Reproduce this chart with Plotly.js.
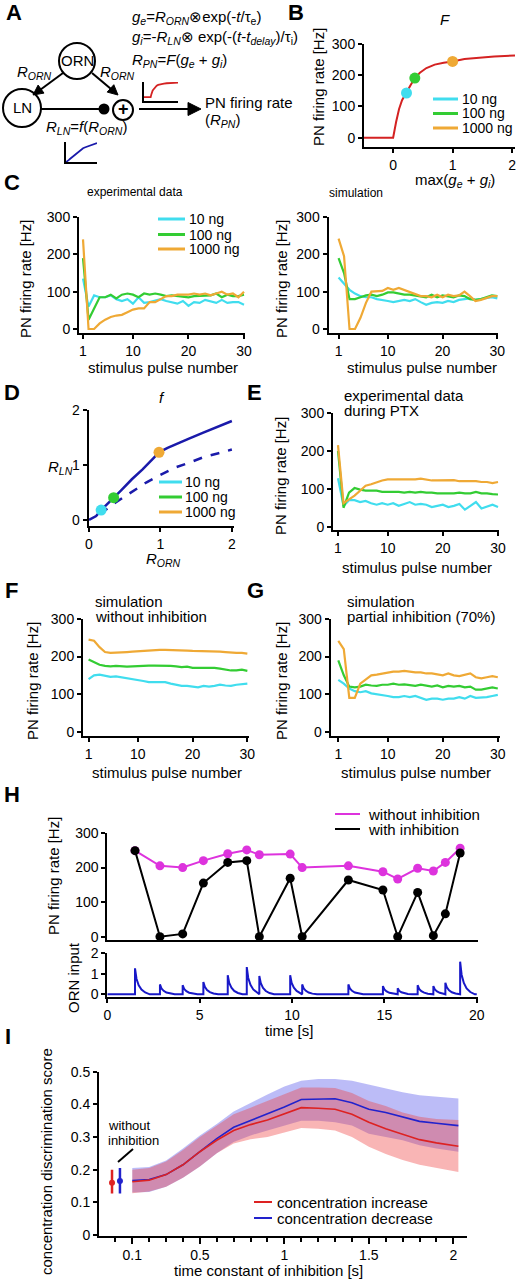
<!DOCTYPE html>
<html><head><meta charset="utf-8">
<script src="https://cdn.plot.ly/plotly-3.0.1.min.js"></script>
<style>html,body{margin:0;padding:0;background:#fff;}#plot{width:518px;height:1280px;}</style>
</head><body><div id="plot"></div>
<script>
// ---------------- DATA ----------------
const concLabels = ['10 ng', '100 ng', '1000 ng'];
const pulseNum = [1,2,3,4,5,6,7,8,9,10,11,12,13,14,15,16,17,18,19,20,21,22,23,24,25,26,27,28,29,30];

// B: transfer function F
const Fx = [-0.5, 0, 0.05, 0.1, 0.15, 0.225, 0.3, 0.365, 0.45, 0.56, 0.7, 0.85, 1.0, 1.2, 1.4, 1.7, 2.05];
const Fy = [0, 0, 50, 92, 120, 143, 170, 191, 208, 223, 234, 240, 244, 252, 256, 260, 263];
const FdotX = [0.225, 0.365, 1.0];
const FdotY = [143, 191, 244];

// C: experimental data
const cExp10   = [135,60,90,85,85,90,80,75,80,68,85,70,72,75,80,75,72,68,75,62,72,70,78,75,70,78,70,72,72,65];
const cExp100  = [190,25,55,85,85,92,82,92,95,92,85,95,92,95,92,88,90,88,88,85,88,88,90,90,95,85,92,88,88,92];
const cExp1000 = [240,0,0,15,25,32,36,38,45,52,55,55,72,72,80,88,88,92,92,92,95,92,95,90,95,100,92,95,85,100];
// C: simulation
const cSim10   = [138,120,105,95,88,85,85,80,78,75,72,75,78,75,80,72,65,70,72,70,75,72,78,80,82,78,80,82,85,82];
const cSim100  = [190,150,80,80,85,90,92,88,92,98,98,95,92,92,90,88,85,92,85,90,88,85,90,88,80,78,80,85,90,88];
const cSim1000 = [242,195,0,0,30,70,100,100,102,110,105,110,105,100,95,88,88,85,92,85,92,88,90,100,88,75,78,82,88,88];

// D: LN transfer function f
const fx = [0, 0.1, 0.17, 0.25, 0.345, 0.45, 0.6, 0.75, 0.9, 0.98, 1.1, 1.25, 1.4, 1.6, 1.8, 2.0];
const fy = [0, 0.07, 0.18, 0.28, 0.405, 0.54, 0.74, 0.92, 1.12, 1.23, 1.31, 1.40, 1.48, 1.59, 1.70, 1.80];
const fDashX = [0.15, 0.25, 0.35, 0.5, 0.65, 0.8, 1.0, 1.2, 1.4, 1.6, 1.8, 2.0];
const fDashY = [0.12, 0.2, 0.3, 0.43, 0.56, 0.68, 0.82, 0.95, 1.04, 1.14, 1.21, 1.28];
const fdotX = [0.17, 0.345, 0.98];
const fdotY = [0.18, 0.405, 1.23];

// E: experimental data during PTX
const ePtx10   = [128,55,70,70,65,68,62,58,62,58,62,55,60,65,58,60,58,52,55,58,52,55,60,45,55,65,48,52,58,52];
const ePtx100  = [200,50,90,102,98,95,95,95,92,92,93,92,90,92,90,92,90,90,88,88,88,88,90,88,88,92,88,88,86,85];
const ePtx1000 = [215,62,72,82,95,108,112,118,122,125,125,125,125,125,125,127,125,122,122,122,122,123,120,120,120,120,118,118,115,118];

// F: simulation without inhibition
const fNo10   = [140,150,152,148,146,147,145,143,140,138,135,132,132,130,132,128,125,122,122,120,118,122,120,122,125,123,122,125,127,128];
const fNo100  = [192,185,178,175,174,175,174,173,174,175,176,176,176,176,175,175,174,172,173,170,170,170,171,170,168,165,163,163,165,162];
const fNo1000 = [245,242,225,212,210,210,212,212,213,214,215,217,218,218,218,218,217,216,216,215,215,214,214,213,213,212,210,210,210,208];

// G: simulation partial inhibition (70%)
const gPart10   = [138,128,115,108,105,108,102,100,98,95,92,92,95,92,95,90,85,88,88,85,88,88,92,88,95,90,90,92,95,98];
const gPart100  = [190,150,120,118,120,125,123,122,125,125,128,125,126,125,122,125,123,120,123,118,122,120,122,118,120,112,112,115,118,115];
const gPart1000 = [242,220,90,90,128,140,150,152,155,158,160,160,162,160,158,158,155,155,152,150,155,150,148,152,155,145,142,145,148,145];

// H: PN responses to pulse train
const pulseTimes = [1.5, 2.85, 4.08, 5.2, 6.52, 7.55, 8.23, 9.9, 10.55, 13.05, 14.92, 15.72, 16.8, 17.65, 18.3, 19.1];
const hWithout = [249, 205, 200, 220, 240, 251, 237, 239, 200, 205, 188, 167, 198, 190, 215, 256];
const hWith    = [249, 0, 8, 155, 215, 220, 0, 169, 0, 164, 135, 0, 128, 3, 66, 242];
const ornPeak  = [1.26, 0.48, 0.44, 0.6, 0.92, 1.32, 0.89, 0.92, 0.48, 0.48, 0.4, 0.29, 0.44, 0.4, 0.56, 1.58];
// shape of one ORN pulse (time after onset [s], fraction of peak)
const pulseOffset = [0, 0.08, 0.2, 0.35, 0.55, 0.8];
const pulseFrac   = [1, 0.6, 0.35, 0.18, 0.07, 0];
const hTimeEnd = 20;

// I: discrimination score
const tauI = [0.1, 0.2, 0.3, 0.4, 0.5, 0.6, 0.7, 0.8, 0.9, 1.0, 1.1, 1.2, 1.3, 1.4, 1.5, 1.6, 1.7, 1.8, 1.9, 2.03];
const incMean = [0.163,0.168,0.185,0.215,0.255,0.29,0.32,0.338,0.352,0.37,0.39,0.388,0.385,0.37,0.345,0.325,0.308,0.292,0.282,0.272];
const incLow  = [0.128,0.133,0.148,0.175,0.21,0.25,0.28,0.293,0.3,0.315,0.328,0.325,0.32,0.3,0.27,0.248,0.23,0.215,0.205,0.193];
const incHigh = [0.2,0.205,0.225,0.26,0.3,0.335,0.37,0.39,0.41,0.43,0.452,0.452,0.45,0.435,0.41,0.395,0.375,0.362,0.355,0.352];
const decMean = [0.167,0.17,0.185,0.215,0.255,0.295,0.33,0.35,0.37,0.392,0.415,0.417,0.417,0.405,0.385,0.375,0.362,0.348,0.342,0.335];
const decLow  = [0.13,0.132,0.148,0.175,0.21,0.25,0.285,0.305,0.32,0.335,0.35,0.35,0.345,0.335,0.31,0.3,0.29,0.275,0.265,0.255];
const decHigh = [0.205,0.208,0.228,0.265,0.305,0.34,0.378,0.405,0.43,0.455,0.472,0.478,0.478,0.472,0.46,0.448,0.437,0.428,0.423,0.418];
const noInhX = [-0.02, 0.027];
const noInhMean = [0.16, 0.165];
const noInhUp = [0.04, 0.04];
const noInhDown = [0.033, 0.038];

// ---------------- STYLE / HELPERS ----------------
const W = 518, H = 1280;
const px = x => x / W, py = y => 1 - y / H;
const FONT = 'Liberation Sans, Arial, sans-serif';
const COL = ['#40DDEE', '#33CC33', '#EFA935'];
const RED = '#D42222', NAVY = '#1A1AAA', MAG = '#DD33DD', HBLUE = '#1818C8';
const INC = '#DD2222', DEC = '#2222CC';
const TICKF = {family: FONT, size: 14, color: '#000'};

function mkX(d, range, anchor, extra) {
  return Object.assign({domain: [px(d[0]), px(d[1])], range: range, anchor: anchor, showline: true, linecolor: '#000', linewidth: 2,
    ticks: 'outside', ticklen: 4, tickwidth: 2, tickcolor: '#000', showgrid: false, zeroline: false, tickfont: TICKF,
    fixedrange: true, tickmode: 'array'}, extra || {});
}
function mkY(d, range, anchor, extra) {
  return Object.assign({domain: [py(d[1]), py(d[0])], range: range, anchor: anchor, showline: true, linecolor: '#000', linewidth: 2,
    ticks: 'outside', ticklen: 4, tickwidth: 2, tickcolor: '#000', showgrid: false, zeroline: false, tickfont: TICKF,
    fixedrange: true, tickmode: 'array'}, extra || {});
}
function line(x, y, n, color, width, dash) {
  return {type: 'scatter', mode: 'lines', x: x, y: y, xaxis: 'x' + n, yaxis: 'y' + n,
    line: {color: color, width: width || 2, dash: dash || 'solid'}, showlegend: false, hoverinfo: 'skip', cliponaxis: false};
}
function dots(x, y, n, colors, size) {
  return {type: 'scatter', mode: 'markers', x: x, y: y, xaxis: 'x' + n, yaxis: 'y' + n,
    marker: {color: colors, size: size || 10}, showlegend: false, hoverinfo: 'skip', cliponaxis: false};
}
const annotations = [];
const shapes = [];
function T(x, y, text, size, opt) {
  annotations.push(Object.assign({xref: 'paper', yref: 'paper', x: px(x), y: py(y), text: text, showarrow: false,
    xanchor: 'center', yanchor: 'middle', font: {family: FONT, size: size || 15, color: '#000'}}, opt || {}));
}
function L(x0, y0, x1, y1, color, width, dash) {
  shapes.push({type: 'line', xref: 'paper', yref: 'paper', x0: px(x0), y0: py(y0), x1: px(x1), y1: py(y1),
    line: {color: color || '#000', width: width || 2, dash: dash || 'solid'}});
}
function legend(x0, x1, xt, ys, labels, colors, size, width) {
  for (let i = 0; i < labels.length; i++) {
    L(x0, ys[i], x1, ys[i], colors[i], width || 3);
    T(xt, ys[i], labels[i], size || 15, {xanchor: 'left'});
  }
}
function tri(pts) {
  let p = 'M ' + pts.map(q => px(q[0]) + ',' + py(q[1])).join(' L ') + ' Z';
  shapes.push({type: 'path', xref: 'paper', yref: 'paper', path: p, fillcolor: '#000', line: {color: '#000', width: 1}});
}
function circ(cx, cy, r, fill) {
  shapes.push({type: 'circle', xref: 'paper', yref: 'paper', x0: px(cx - r), x1: px(cx + r), y0: py(cy + r), y1: py(cy - r),
    line: {color: '#000', width: 2}, fillcolor: fill || 'rgba(0,0,0,0)'});
}

// ---------------- TRACES ----------------
const traces = [];
// B
traces.push(line(Fx, Fy, 1, RED, 2));
traces.push(dots(FdotX, FdotY, 1, COL, 11));
// C, E, F, G
[[cExp10, cExp100, cExp1000, 2], [cSim10, cSim100, cSim1000, 3],
 [ePtx10, ePtx100, ePtx1000, 5], [fNo10, fNo100, fNo1000, 6], [gPart10, gPart100, gPart1000, 7]].forEach(s => {
  traces.push(line(pulseNum, s[0], s[3], COL[0], 2.2));
  traces.push(line(pulseNum, s[1], s[3], COL[1], 2.2));
  traces.push(line(pulseNum, s[2], s[3], COL[2], 2.2));
});
// D
traces.push(line(fDashX, fDashY, 4, NAVY, 2.5, 'dash'));
traces.push(line(fx, fy, 4, NAVY, 2.5));
traces.push(dots(fdotX, fdotY, 4, COL, 11));
// H upper
traces.push({type: 'scatter', mode: 'lines+markers', x: pulseTimes, y: hWithout, xaxis: 'x8', yaxis: 'y8',
  line: {color: MAG, width: 2}, marker: {color: MAG, size: 9}, showlegend: false, hoverinfo: 'skip', cliponaxis: false});
traces.push({type: 'scatter', mode: 'lines+markers', x: pulseTimes, y: hWith, xaxis: 'x8', yaxis: 'y8',
  line: {color: '#000', width: 2}, marker: {color: '#000', size: 9}, showlegend: false, hoverinfo: 'skip', cliponaxis: false});
// H lower: ORN input trace assembled from read pulse times, peaks and pulse shape
const ornT = [0], ornV = [0];
for (let i = 0; i < pulseTimes.length; i++) {
  const t0 = pulseTimes[i];
  const next = i + 1 < pulseTimes.length ? pulseTimes[i + 1] : hTimeEnd;
  ornT.push(t0); ornV.push(0);
  for (let k = 0; k < pulseOffset.length; k++) {
    if (t0 + pulseOffset[k] < next) { ornT.push(t0 + pulseOffset[k]); ornV.push(ornPeak[i] * pulseFrac[k]); }
  }
}
ornT.push(hTimeEnd); ornV.push(0);
traces.push(line(ornT, ornV, 9, HBLUE, 2));
// I bands (blue first, red on top)
traces.push({type: 'scatter', mode: 'lines', x: tauI, y: decLow, xaxis: 'x10', yaxis: 'y10', line: {width: 0}, showlegend: false, hoverinfo: 'skip'});
traces.push({type: 'scatter', mode: 'lines', x: tauI, y: decHigh, xaxis: 'x10', yaxis: 'y10', line: {width: 0}, fill: 'tonexty', fillcolor: 'rgba(80,80,235,0.38)', showlegend: false, hoverinfo: 'skip'});
traces.push({type: 'scatter', mode: 'lines', x: tauI, y: incLow, xaxis: 'x10', yaxis: 'y10', line: {width: 0}, showlegend: false, hoverinfo: 'skip'});
traces.push({type: 'scatter', mode: 'lines', x: tauI, y: incHigh, xaxis: 'x10', yaxis: 'y10', line: {width: 0}, fill: 'tonexty', fillcolor: 'rgba(240,60,60,0.38)', showlegend: false, hoverinfo: 'skip'});
traces.push(line(tauI, decMean, 10, DEC, 1.6));
traces.push(line(tauI, incMean, 10, INC, 1.6));
[INC, DEC].forEach((c, i) => {
  traces.push({type: 'scatter', mode: 'markers', x: [noInhX[i]], y: [noInhMean[i]], xaxis: 'x10', yaxis: 'y10',
    marker: {color: c, size: 6},
    error_y: {type: 'data', symmetric: false, array: [noInhUp[i]], arrayminus: [noInhDown[i]], width: 0, thickness: 2.5, color: c},
    showlegend: false, hoverinfo: 'skip', cliponaxis: false});
});
// insets in A (same functions F and f, miniature)
traces.push(line(Fx, Fy, 11, RED, 1.8));
traces.push(line(fx, fy, 12, NAVY, 1.8));

// ---------------- AXES ----------------
const t0123 = {tickvals: [0, 100, 200, 300], ticktext: ['0', '100', '200', '300']};
const tPulse = {tickvals: [1, 10, 20, 30], ticktext: ['1', '10', '20', '30']};
const layout = {
  width: W, height: H, margin: {l: 0, r: 0, t: 0, b: 0}, paper_bgcolor: '#fff', plot_bgcolor: 'rgba(0,0,0,0)',
  showlegend: false, font: {family: FONT, color: '#000'},
  xaxis:  mkX([364, 515], [-0.49, 2.05], 'y', {tickvals: [0, 1, 2], ticktext: ['0', '1', '2']}),
  yaxis:  mkY([44, 146.7], [-29, 300], 'x', t0123),
  xaxis2: mkX([79, 245], [0.28, 30.18], 'y2', tPulse),
  yaxis2: mkY([217, 333], [-10.7, 300], 'x2', t0123),
  xaxis3: mkX([328.5, 498], [-0.84, 30.12], 'y3', tPulse),
  yaxis3: mkY([217, 333], [-10.7, 300], 'x3', t0123),
  xaxis4: mkX([88.5, 234], [-0.007, 2.03], 'y4', {tickvals: [0, 1, 2], ticktext: ['0', '1', '2']}),
  yaxis4: mkY([410, 526], [-0.11, 2], 'x4', {tickvals: [0, 1, 2], ticktext: ['0', '1', '2']}),
  xaxis5: mkX([333, 499], [0.094, 30.18], 'y5', tPulse),
  yaxis5: mkY([413, 530], [-8.7, 300], 'x5', t0123),
  xaxis6: mkX([83, 249], [-0.02, 30.3], 'y6', tPulse),
  yaxis6: mkY([619, 736], [-11.5, 300], 'x6', t0123),
  xaxis7: mkX([330.7, 500], [-0.38, 30.4], 'y7', tPulse),
  yaxis7: mkY([619, 736], [-11.5, 300], 'x7', t0123),
  xaxis8: mkX([107.3, 477.5], [0, 20.04], 'y8', {ticks: '', showticklabels: false}),
  yaxis8: mkY([833, 940], [-9.6, 300], 'x8', t0123),
  xaxis9: mkX([107.3, 477.5], [0, 20.04], 'y9', {tickvals: [0, 5, 10, 15, 20], ticktext: ['0', '5', '10', '15', '20']}),
  yaxis9: mkY([953, 997], [-0.13, 2], 'x9', {tickvals: [0, 1, 2], ticktext: ['0', '1', '2']}),
  xaxis10: mkX([99, 467], [-0.097, 2.081], 'y10', {tickvals: [0.1, 0.5, 1, 1.5, 2], ticktext: ['0.1', '0.5', '1', '1.5', '2'], ticklen: 6,
    minor: {tickmode: 'linear', tick0: 0, dtick: 0.1, ticklen: 4, tickwidth: 2, tickcolor: '#000', ticks: 'outside', showgrid: false}}),
  yaxis10: mkY([1071.7, 1235.5], [-0.0015, 0.5], 'x10', {tickvals: [0, 0.1, 0.2, 0.3, 0.4, 0.5], ticktext: ['0', '0.1', '0.2', '0.3', '0.4', '0.5']}),
  xaxis11: mkX([144, 178], [-0.5, 2.05], 'y11', {ticks: '', showticklabels: false}),
  yaxis11: mkY([82, 101], [-70, 275], 'x11', {ticks: '', showticklabels: false}),
  xaxis12: mkX([66, 97], [0, 2], 'y12', {ticks: '', showticklabels: false}),
  yaxis12: mkY([142, 162], [0, 1.9], 'x12', {ticks: '', showticklabels: false}),
  annotations: annotations, shapes: shapes
};

// ---------------- TEXT ----------------
const bold = {family: FONT, size: 22, color: '#000', weight: 'bold'};
[['A', 14, 13], ['B', 296, 12], ['C', 12, 183], ['D', 12, 392], ['E', 254, 392], ['F', 11, 590], ['G', 255, 590], ['H', 12, 794], ['I', 8, 1036]]
  .forEach(a => T(a[1], a[2], '<b>' + a[0] + '</b>', 22, {font: bold}));

const rot = {textangle: -90};
T(318, 87, 'PN firing rate [Hz]', 15, rot);
T(25, 279, 'PN firing rate [Hz]', 15, rot);
T(281, 279, 'PN firing rate [Hz]', 15, rot);
T(281, 476, 'PN firing rate [Hz]', 15, rot);
T(32, 681, 'PN firing rate [Hz]', 15, rot);
T(281, 681, 'PN firing rate [Hz]', 15, rot);
T(53, 876, 'PN firing rate [Hz]', 15, rot);
T(73, 978, 'ORN input', 15, rot);
T(46, 1162, 'concentration discrimination score', 15, rot);

T(455, 180, 'max(<i>g</i><sub><i>e</i></sub> + <i>g</i><sub><i>i</i></sub>)', 15);
T(163, 367, 'stimulus pulse number', 15);
T(422, 367, 'stimulus pulse number', 15);
T(417, 567, 'stimulus pulse number', 15);
T(167, 772, 'stimulus pulse number', 15);
T(416, 772, 'stimulus pulse number', 15);
T(163, 559, '<i>R</i><sub><i>ORN</i></sub>', 15);
T(60, 467, '<i>R</i><sub><i>LN</i></sub>', 15);
T(289, 1030, 'time [s]', 15);
T(268, 1270, 'time constant of inhibition [s]', 15);

// panel titles
T(445, 19, '<i>F</i>', 15);
T(162, 397, '<i>f</i>', 15);
T(135, 192, 'experimental data', 12);
T(356, 193, 'simulation', 12);
T(342, 395, 'experimental data', 15, {xanchor: 'left'});
T(342, 410, 'during PTX', 15, {xanchor: 'left'});
T(93, 601, 'simulation', 15, {xanchor: 'left'});
T(93, 616, 'without inhibition', 15, {xanchor: 'left'});
T(345, 601, 'simulation', 15, {xanchor: 'left'});
T(345, 616, 'partial inhibition (70%)', 15, {xanchor: 'left'});

// legends
legend(433, 458, 460, [99, 113.5, 128], concLabels, COL, 14, 3);
legend(158, 185, 187, [219, 234.5, 249], concLabels, COL, 14, 3);
legend(159, 182, 183, [482, 497, 512], concLabels, COL, 14, 3);
legend(335, 360, 366, [814, 829], ['without inhibition', 'with inhibition'], [MAG, '#000'], 15, 2);
legend(254, 272, 275, [1202, 1218], ['concentration increase', 'concentration decrease'], [INC, DEC], 15, 2);

// I annotation
T(106, 1125, 'without', 13, {xanchor: 'left'});
T(106, 1140, 'inhibition', 13, {xanchor: 'left'});
L(133, 1149, 118, 1162, '#000', 2);

// ---------------- DIAGRAM (panel A) ----------------
circ(77, 61, 18);
circ(22, 108, 19);
circ(123, 110, 10);
circ(104, 109, 4.5, '#000');
L(41, 109, 104, 109);
L(63, 73, 40, 90);
tri([[33, 95], [44.0, 93.1], [38.1, 85.1]]);
L(92, 73, 111, 89);
tri([[118, 95], [107.2, 92.1], [113.8, 84.7]]);
L(139, 109, 190, 109);
tri([[201, 109], [188, 102.5], [188, 115.5]]);
T(77, 61, 'ORN', 15);
T(22, 108, 'LN', 15);
T(123, 109, '<b>+</b>', 18);
T(34, 72, '<i>R</i><sub><i>ORN</i></sub>', 15);
T(117, 72, '<i>R</i><sub><i>ORN</i></sub>', 15);
T(86, 128, '<i>R</i><sub><i>LN</i></sub>=<i>f</i>(<i>R</i><sub><i>ORN</i></sub>)', 15);
T(130, 17, '<i>g</i><sub><i>e</i></sub>=<i>R</i><sub><i>ORN</i></sub>⊗exp(-<i>t</i>/τ<sub>e</sub>)', 15, {xanchor: 'left'});
T(130, 38, '<i>g</i><sub><i>i</i></sub>=-<i>R</i><sub><i>LN</i></sub>⊗ exp(-(<i>t</i>-<i>t</i><sub><i>delay</i></sub>)/τ<sub>i</sub>)', 15, {xanchor: 'left'});
T(130, 60, '<i>R</i><sub><i>PN</i></sub>=<i>F</i>(<i>g</i><sub><i>e</i></sub> + <i>g</i><sub><i>i</i></sub>)', 15, {xanchor: 'left'});
T(203, 102, 'PN firing rate', 15, {xanchor: 'left'});
T(203, 120, '(<i>R</i><sub><i>PN</i></sub>)', 15, {xanchor: 'left'});

Plotly.newPlot('plot', traces, layout, {staticPlot: true, displayModeBar: false});
</script>
</body></html>
